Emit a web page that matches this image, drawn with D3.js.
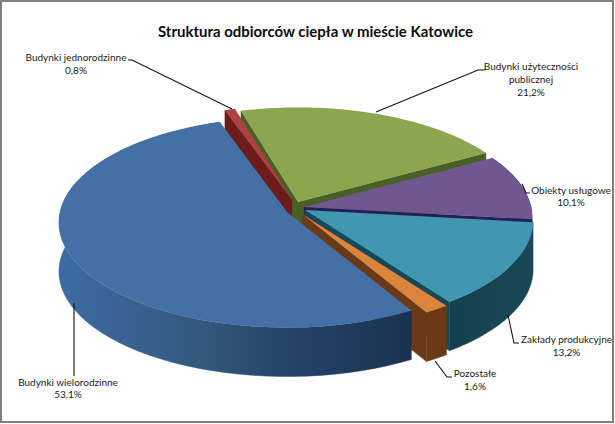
<!DOCTYPE html>
<html><head><meta charset="utf-8">
<script src="https://cdn.jsdelivr.net/npm/d3@7/dist/d3.min.js"></script>
<style>html,body{margin:0;padding:0;background:#fff}svg{display:block}text{font-family:Lato,"Open Sans",sans-serif}</style>
</head><body><svg id="c" width="615" height="424"></svg>
<script>
const chartTitle = "Struktura odbiorców ciepła w mieście Katowice";
const categories = ["Budynki użyteczności publicznej","Obiekty usługowe","Zakłady produkcyjne","Pozostałe","Budynki wielorodzinne","Budynki jednorodzinne"];
const values = [21.2,10.1,13.2,1.6,53.1,0.8];
const valueLabels = ["21,2%","10,1%","13,2%","1,6%","53,1%","0,8%"];
const topColors = ["#8aa64e","#70578f","#3f97b0","#dc843c","#4470a6","#ab4240"];
const wallColors = ["#4a5f26","#241f55","#17485a","#6a3a16","#1d3a5e","#6d1c1c"];
const apexes = [[298,202],[304,207],[305,210],[302,214],[287,212],[292,200]];
const drawOrder = [0,5,1,2,3,4];

const DEPTH=49, RX=227, RY=104, K=0.1, T0=-16*Math.PI/180;
const svg=d3.select("#c");
svg.append("rect").attr("x",1).attr("y",1).attr("width",612).attr("height",421).attr("fill","#fff").attr("stroke","#7f7f7f").attr("stroke-width",2);

const defs=svg.append("defs");
const wg=defs.append("linearGradient").attr("id","blueWall").attr("gradientUnits","userSpaceOnUse").attr("x1",59).attr("x2",408).attr("y1",0).attr("y2",0);
[[0,"#3d6ba3"],[0.4,"#34597f"],[0.65,"#25436b"],[1,"#1a3350"]].forEach(s=>wg.append("stop").attr("offset",s[0]).attr("stop-color",s[1]));
const tg=defs.append("linearGradient").attr("id","tealWall").attr("gradientUnits","userSpaceOnUse").attr("x1",447).attr("x2",532).attr("y1",0).attr("y2",0);
[[0,"#153f4e"],[1,"#1a4858"]].forEach(s=>tg.append("stop").attr("offset",s[0]).attr("stop-color",s[1]));

function project(t,a){
  const u=Math.sin(t), v=Math.cos(t), s=1/(1+K*v);
  return [a[0]+RX*u*s, a[1]-RY*v*s];
}
const line=d3.line();
const arcs=d3.pie().sort(null).value(d=>d).startAngle(T0).endAngle(T0+2*Math.PI)(values);
const down=p=>[p[0],p[1]+DEPTH];
function arcPts(d,a){return d3.range(0,61).map(i=>project(d.startAngle+(d.endAngle-d.startAngle)*i/60,a));}

const g=svg.append("g");
function wall(pts,fill){g.append("path").attr("d",line(pts)+"Z").attr("fill",fill).attr("stroke",fill).attr("stroke-width",.4);}
drawOrder.forEach(i=>{
  const d=arcs[i],a=apexes[i],pts=arcPts(d,a),s=pts[0],e=pts[pts.length-1];
  if(i===0||i===5) wall([a,s,down(s),down(a)],wallColors[i]);
  if(i===0||i===1||i===2||i===3) wall([a,e,down(e),down(a)],wallColors[i]);
  const fill=i===4?"url(#blueWall)":i===2?"url(#tealWall)":wallColors[i];
  if(i!==0&&i!==5) wall(pts.concat(pts.slice().reverse().map(down)),fill);
  g.append("path").attr("d",line([a].concat(pts))+"Z").attr("fill",topColors[i]);
});

const leaders=[
 {i:0,pts:[[376,112],[478,70],[485,70]]},
 {i:1,pts:[[522,184],[526,193],[530,193]]},
 {i:2,pts:[[508,315],[514,343],[519,343]]},
 {i:3,pts:[[435,361],[447,377],[452,377]]},
 {i:4,pts:[[74,303],[74,376]]},
 {i:5,pts:[[232,109],[132,60],[128,60]]}];
leaders.forEach(l=>svg.append("path").attr("d",line(l.pts)).attr("fill","none").attr("stroke","#111").attr("stroke-width",1.1));

svg.append("text").attr("x",315.5).attr("y",37).attr("text-anchor","middle").attr("font-size",15.8).attr("font-weight",700).attr("fill","#0c0c0c").attr("textLength",315).attr("lengthAdjust","spacingAndGlyphs").text(chartTitle);

const labels=[
 {i:0,x:531,y:[70,83,96],lines:["Budynki użyteczności","publicznej"]},
 {i:1,x:571,y:[193.5,206],lines:["Obiekty usługowe"]},
 {i:2,x:566.5,y:[343,355.5],lines:["Zakłady produkcyjne"]},
 {i:3,x:475,y:[377,390],lines:["Pozostałe"]},
 {i:4,x:68,y:[385.5,398],lines:["Budynki wielorodzinne"]},
 {i:5,x:76,y:[61,73.5],lines:["Budynki jednorodzinne"]}];
labels.forEach(l=>{
  l.lines.concat([valueLabels[l.i]]).forEach((t,k)=>svg.append("text").attr("x",l.x).attr("y",l.y[k]).attr("text-anchor","middle").attr("font-size",10).attr("fill","#1a1a1a").text(t));
});
</script></body></html>
